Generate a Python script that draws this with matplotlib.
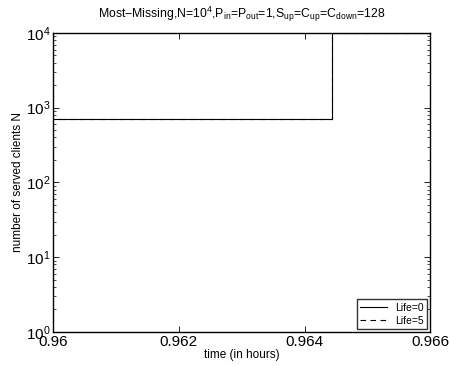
import numpy as np
import matplotlib
matplotlib.use('Agg')
import matplotlib.pyplot as plt
from matplotlib.ticker import FixedLocator, FixedFormatter, LogLocator, NullFormatter

plt.rcParams['font.family'] = ['Liberation Sans', 'DejaVu Sans']
plt.rcParams['mathtext.fontset'] = 'custom'
plt.rcParams['mathtext.rm'] = 'Liberation Sans'
plt.rcParams['mathtext.it'] = 'Liberation Sans:italic'
plt.rcParams['mathtext.bf'] = 'Liberation Sans:bold'

# step data (both runs lie on top of each other)
time_life0 = [0.958, 0.96444, 0.968]
served_life0 = [700, 10000, 10000]
time_life5 = [0.958, 0.96444, 0.968]
served_life5 = [700, 10000, 10000]

xticks = [0.96, 0.962, 0.964, 0.966]
xticklabels = ['0.96', '0.962', '0.964', '0.966']

fig = plt.figure(figsize=(4.5, 3.66), dpi=100)
ax = fig.add_axes([0.118, 0.093, 0.838, 0.817])

ax.step(time_life0, served_life0, where='post', color='k', lw=0.8, label='Life=0')
ax.step(time_life5, served_life5, where='post', color='k', lw=0.8,
        linestyle=(0, (5, 4)), label='Life=5')

ax.set_yscale('log')
ax.set_xlim(0.96, 0.966)
ax.set_ylim(1, 1e4)
ax.xaxis.set_major_locator(FixedLocator(xticks))
ax.xaxis.set_major_formatter(FixedFormatter(xticklabels))
ax.yaxis.set_major_locator(LogLocator(base=10, numticks=10))
ax.yaxis.set_minor_locator(LogLocator(base=10, subs=np.arange(2, 10), numticks=10))
ax.yaxis.set_minor_formatter(NullFormatter())

ax.tick_params(which='both', direction='in', top=True, right=True, labelsize=11, pad=2)
ax.tick_params(which='major', length=4, width=0.6)
ax.tick_params(which='minor', length=2, width=0.5)
for s in ax.spines.values():
    s.set_linewidth(1.0)

ax.set_title(r'Most−Missing,N=10$^4$,P$_{\rm in}$=P$_{\rm out}$=1,S$_{\rm up}$=C$_{\rm up}$=C$_{\rm down}$=128',
             fontsize=8.8, pad=11)
ax.set_xlabel('time (in hours)', fontsize=8.5, labelpad=0)
ax.set_ylabel('number of served clients N', fontsize=8.5, labelpad=1)

leg = ax.legend(loc='lower right', fontsize=7.5, frameon=True, fancybox=False,
                edgecolor='k', handlelength=2.6, borderaxespad=0.3,
                labelspacing=0.3, borderpad=0.3)
leg.get_frame().set_linewidth(1.0)

fig.savefig('out.png', dpi=100)
